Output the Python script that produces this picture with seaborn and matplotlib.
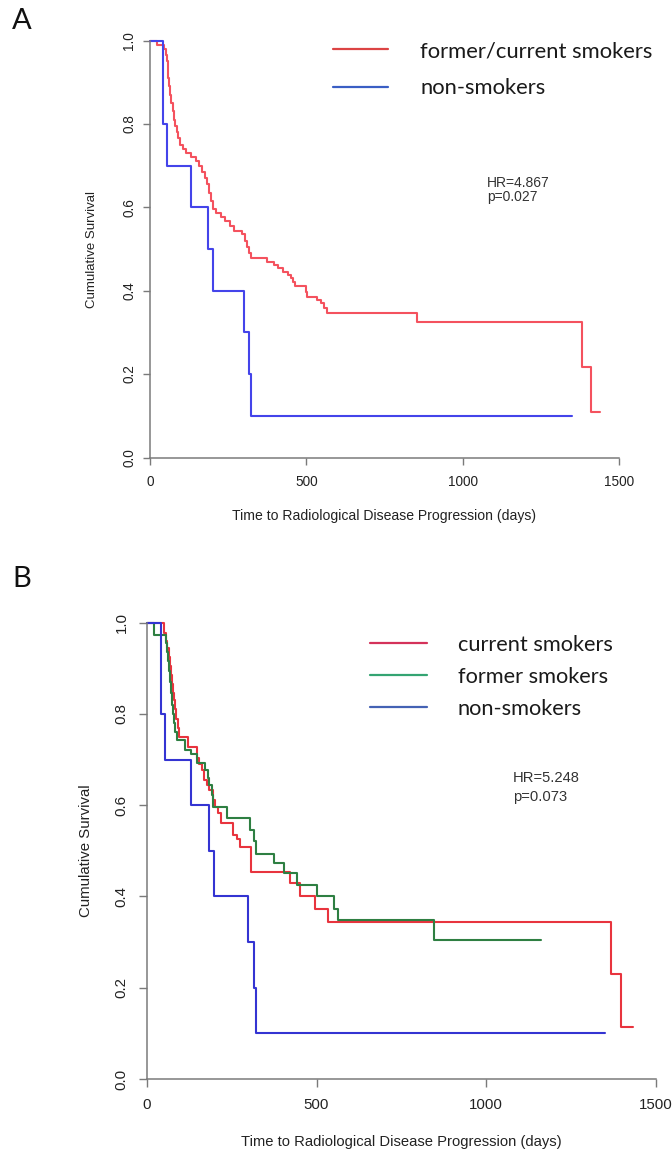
import numpy as np
import pandas as pd
import matplotlib
matplotlib.use("Agg")
import matplotlib.pyplot as plt
import seaborn as sns
from matplotlib.lines import Line2D

# ---------------- data ----------------
A_GROUPS = ["former/current smokers", "non-smokers"]
A_RED_T = [0, 22, 45, 50, 53, 56, 59, 62, 65, 68, 72, 76, 80, 85, 90, 96, 104, 116, 132, 148,
           158, 166, 175, 183, 190, 196, 201, 212, 226, 240, 255, 268, 295, 305, 310, 316, 322, 375, 395, 410,
           425, 440, 450, 458, 465, 498, 503, 535, 546, 556, 565, 855, 1381, 1410, 1440]
A_RED_S = [1.0, 0.99, 0.98, 0.965, 0.95, 0.93, 0.91, 0.89, 0.87, 0.85, 0.83, 0.81, 0.795, 0.78, 0.765, 0.75, 0.74, 0.73, 0.72, 0.71,
           0.70, 0.685, 0.67, 0.655, 0.635, 0.615, 0.595, 0.586, 0.576, 0.566, 0.554, 0.544, 0.537, 0.52, 0.505, 0.49, 0.478, 0.470, 0.462, 0.454,
           0.446, 0.438, 0.430, 0.422, 0.412, 0.398, 0.386, 0.378, 0.370, 0.358, 0.346, 0.325, 0.216, 0.108, 0.108]
A_BLUE_T = [0, 42, 53, 132, 185, 203, 300, 318, 322, 1350]
A_BLUE_S = [1.0, 0.8, 0.7, 0.6, 0.5, 0.4, 0.3, 0.2, 0.1, 0.1]
A_STATS = ["HR=4.867", "p=0.027"]

B_GROUPS = ["current smokers", "former smokers", "non-smokers"]
B_RED_T = [0, 50, 56, 60, 64, 67, 70, 73, 77, 80, 84, 87, 90, 93, 122, 147, 152, 163, 168, 178,
           184, 194, 202, 209, 219, 253, 265, 275, 308, 423, 452, 496, 534, 1369, 1397, 1433]
B_RED_S = [1.0, 0.977, 0.96, 0.945, 0.925, 0.905, 0.885, 0.865, 0.845, 0.83, 0.81, 0.79, 0.77, 0.75, 0.728, 0.703, 0.69, 0.677, 0.655, 0.645,
           0.633, 0.611, 0.596, 0.582, 0.560, 0.535, 0.525, 0.509, 0.454, 0.429, 0.400, 0.372, 0.345, 0.230, 0.114, 0.114]
B_GREEN_T = [0, 22, 56, 60, 63, 66, 69, 71, 74, 76, 80, 83, 88, 113, 130, 148, 172, 179, 184, 191,
             196, 235, 303, 316, 321, 374, 403, 443, 500, 553, 563, 848, 1163]
B_GREEN_S = [1.0, 0.974, 0.955, 0.935, 0.915, 0.895, 0.87, 0.845, 0.82, 0.80, 0.78, 0.76, 0.743, 0.72, 0.713, 0.692, 0.677, 0.66, 0.645, 0.622,
             0.597, 0.571, 0.545, 0.522, 0.494, 0.473, 0.451, 0.425, 0.400, 0.373, 0.348, 0.305, 0.305]
B_BLUE_T = [0, 41, 54, 131, 182, 199, 298, 315, 321, 1350]
B_BLUE_S = [1.0, 0.8, 0.7, 0.6, 0.5, 0.4, 0.3, 0.2, 0.1, 0.1]
B_STATS = ["HR=5.248", "p=0.073"]

X_TICKS = [0, 500, 1000, 1500]
Y_TICKS = [0.0, 0.2, 0.4, 0.6, 0.8, 1.0]
X_LABEL = "Time to Radiological Disease Progression (days)"
Y_LABEL = "Cumulative Survival"

# ---------------- styling ----------------
sns.set_theme(style="white")
plt.rcParams["font.family"] = ["Liberation Sans", "DejaVu Sans"]

W, H = 672, 1150
fig = plt.figure(figsize=(W / 100, H / 100), dpi=100)

def ax_rect(x0, x1, y_top, y_bot):
    return [x0 / W, 1 - y_bot / H, (x1 - x0) / W, (y_bot - y_top) / H]

def build(times, survs, groups):
    frames = []
    for t, s, g in zip(times, survs, groups):
        frames.append(pd.DataFrame({"time": t, "surv": s, "group": g}))
    return pd.concat(frames, ignore_index=True)

def style_axes(ax, tick_fs, tick_len, xpad, ypad, spine_col):
    ax.set_xlim(0, 1500)
    ax.set_ylim(0, 1.0)
    ax.set_xticks(X_TICKS)
    ax.set_xticklabels([str(v) for v in X_TICKS])
    ax.set_yticks(Y_TICKS)
    ax.set_yticklabels([f"{v:.1f}" for v in Y_TICKS], rotation=90, va="center")
    for s in ["top", "right"]:
        ax.spines[s].set_visible(False)
    for s in ["left", "bottom"]:
        ax.spines[s].set_color(spine_col)
        ax.spines[s].set_linewidth(1.1)
    ax.tick_params(axis="both", which="major", bottom=True, left=True, top=False, right=False,
                   direction="out", length=tick_len, width=1.0,
                   color=spine_col, labelsize=tick_fs, labelcolor="#222222")
    ax.tick_params(axis="x", pad=xpad)
    ax.tick_params(axis="y", pad=ypad)
    ax.set_facecolor("white")
    for ln in ax.lines:
        ln.set_clip_on(False)

def fit_width(textobj, target_px):
    fig.canvas.draw()
    w = textobj.get_window_extent().width
    textobj.set_fontsize(textobj.get_fontsize() * target_px / w)

# ---------------- panel A ----------------
axA = fig.add_axes(ax_rect(150, 619, 40.5, 457.5))
dfA = build([A_RED_T, A_BLUE_T], [A_RED_S, A_BLUE_S], A_GROUPS)
palA = {A_GROUPS[0]: "#f4525e", A_GROUPS[1]: "#4444ea"}
sns.lineplot(data=dfA, x="time", y="surv", hue="group", palette=palA,
             estimator=None, drawstyle="steps-post", linewidth=1.5, legend=False, ax=axA)
style_axes(axA, 9.8, 5, 7.5, 5.0, "#7a7a7a")
axA.set_xlabel(X_LABEL, fontsize=9.5, color="#222222")
axA.set_ylabel(Y_LABEL, fontsize=9.5, color="#222222")
axA.xaxis.set_label_coords(0.5, (457.5 - 516) / 417)
axA.xaxis.label.set_va("center")
axA.yaxis.set_label_coords((92 - 150) / 469, 0.5)
axA.yaxis.label.set_va("center")

legA_cols = ["#dc4444", "#3a5ec4"]
handlesA = [Line2D([], [], color=c, lw=1.6) for c in legA_cols]

# ---------------- panel B ----------------
axB = fig.add_axes(ax_rect(147, 655.5, 622.7, 1079))
dfB = build([B_RED_T, B_GREEN_T, B_BLUE_T], [B_RED_S, B_GREEN_S, B_BLUE_S], B_GROUPS)
palB = {B_GROUPS[0]: "#e8343e", B_GROUPS[1]: "#2e7f42", B_GROUPS[2]: "#3434d2"}
sns.lineplot(data=dfB, x="time", y="surv", hue="group", palette=palB,
             estimator=None, drawstyle="steps-post", linewidth=1.5, legend=False, ax=axB)
style_axes(axB, 10.8, 5.8, 7.8, 7.6, "#7a7a7a")
axB.set_xlabel(X_LABEL, fontsize=10.5, color="#222222")
axB.set_ylabel(Y_LABEL, fontsize=10.8, color="#222222")
axB.xaxis.set_label_coords(0.5, (1079 - 1141.7) / 456.3)
axB.xaxis.label.set_va("center")
axB.yaxis.set_label_coords((86 - 147) / 508.5, 0.5)
axB.yaxis.label.set_va("center")

legB_cols = ["#d4325a", "#34a472", "#4462b4"]
handlesB = [Line2D([], [], color=c, lw=1.6) for c in legB_cols]

# ---------------- legends ----------------
def make_leg(ax, handles, labels, x_line0, line_len, text_x, top_px, fs, ls):
    fs_px = fs * 100 / 72
    return ax.legend(handles, labels, loc="upper left",
                     bbox_to_anchor=(x_line0 / W, 1 - top_px / H),
                     bbox_transform=fig.transFigure, frameon=False, borderpad=0,
                     borderaxespad=0, handlelength=line_len / fs_px,
                     handletextpad=(text_x - x_line0 - line_len) / fs_px,
                     labelspacing=ls, prop={"family": ["Lato", "DejaVu Sans"], "size": fs})

def place_legend(ax, handles, labels, x_line0, line_len, text_x, row_ys, fs, fit_px):
    leg = make_leg(ax, handles, labels, x_line0, line_len, text_x, row_ys[0] - 12, fs, 0.5)
    fig.canvas.draw()
    w = leg.get_texts()[0].get_window_extent().width
    fs = fs * fit_px / w
    fs_px = fs * 100 / 72
    leg.remove()
    leg = make_leg(ax, handles, labels, x_line0, line_len, text_x, row_ys[0] - 12, fs, 0.5)
    fig.canvas.draw()
    ext = [t.get_window_extent() for t in leg.get_texts()]
    cy = [H - (e.y0 + e.y1) / 2 for e in ext]
    th = ext[0].height
    spacing_target = (row_ys[-1] - row_ys[0]) / (len(row_ys) - 1)
    ls = 0.5 + (spacing_target - (cy[1] - cy[0])) / fs_px
    leg.remove()
    leg = make_leg(ax, handles, labels, x_line0, line_len, text_x, row_ys[0] - th / 2, fs, ls)
    for t in leg.get_texts():
        t.set_color("#1a1a1a")
    return leg

place_legend(axA, handlesA, A_GROUPS, 332.7, 55.6, 420, [51, 88.5], 15, 233)
place_legend(axB, handlesB, B_GROUPS, 370, 57, 457.7, [645, 677, 709], 13, 155)

# ---------------- statistics text ----------------
tA1 = fig.text(486.7 / W, 1 - 182.7 / H, A_STATS[0], fontsize=10, ha="left", va="center", color="#333333")
tA2 = fig.text(486.7 / W, 1 - 196.7 / H, A_STATS[1], fontsize=10, ha="left", va="center", color="#333333")
fit_width(tA1, 63)
tA2.set_fontsize(tA1.get_fontsize())
tB1 = fig.text(513 / W, 1 - 778 / H, B_STATS[0], fontsize=10.5, ha="left", va="center", color="#333333")
tB2 = fig.text(513 / W, 1 - 796.7 / H, B_STATS[1], fontsize=10.5, ha="left", va="center", color="#333333")
fit_width(tB1, 67)
tB2.set_fontsize(tB1.get_fontsize())

# fit axis label widths
fit_width(axA.xaxis.label, 302)
fit_width(axB.xaxis.label, 321)

# ---------------- panel letters ----------------
fig.text(22 / W, 1 - 21 / H, "A", fontsize=21, ha="center", va="center",
         family=["Lato", "DejaVu Sans"], color="#111111")
fig.text(22 / W, 1 - 579 / H, "B", fontsize=21, ha="center", va="center",
         family=["Lato", "DejaVu Sans"], color="#111111")

fig.savefig("out.png", dpi=100, facecolor="white")
